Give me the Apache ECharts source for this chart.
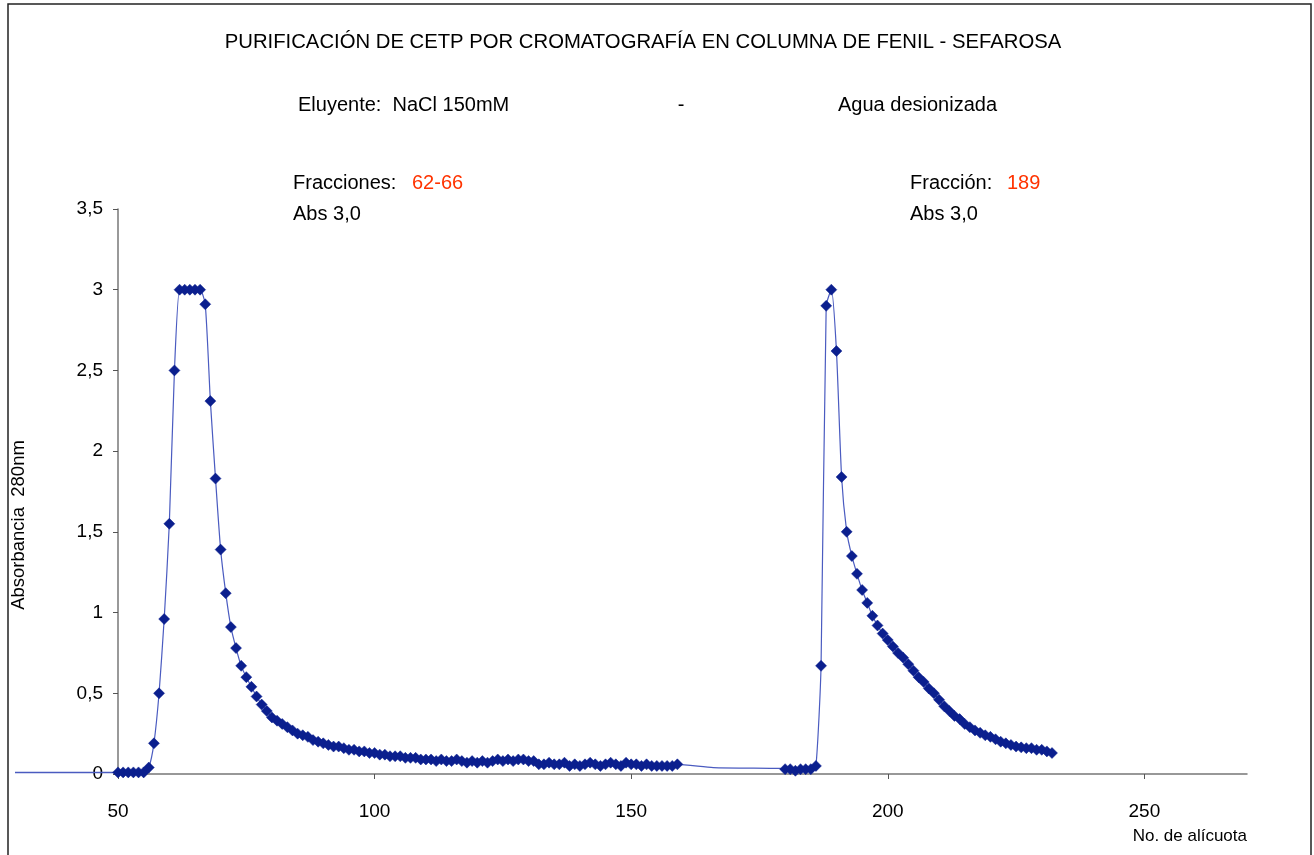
<!DOCTYPE html>
<html>
<head>
<meta charset="utf-8">
<script src="https://cdn.jsdelivr.net/npm/echarts@6/dist/echarts.min.js"></script>
<style>
  html, body { margin: 0; padding: 0; background: #fff; }
  #chart { width: 1314px; height: 855px; }
</style>
</head>
<body>
<div id="chart"></div>
<script>
// alícuotas 50..159 (elución con NaCl 150mM)
var inicio1 = 50;
var abs1 = [
    0.01, 0.01, 0.01, 0.01, 0.01, 0.01, 0.04, 0.19, 0.50, 0.96,
    1.55, 2.50, 3.00, 3.00, 3.00, 3.00, 3.00, 2.91, 2.31, 1.83,
    1.39, 1.12, 0.91, 0.78, 0.67, 0.60, 0.54, 0.48, 0.43, 0.39,
    0.35, 0.33, 0.31, 0.29, 0.27, 0.25, 0.24, 0.23, 0.21, 0.20,
    0.19, 0.18, 0.17, 0.17, 0.16, 0.15, 0.15, 0.14, 0.14, 0.13,
    0.13, 0.12, 0.12, 0.11, 0.11, 0.11, 0.10, 0.10, 0.10, 0.09,
    0.09, 0.09, 0.08, 0.09, 0.08, 0.08, 0.09, 0.08, 0.07, 0.08,
    0.07, 0.08, 0.07, 0.08, 0.09, 0.08, 0.09, 0.08, 0.09, 0.09,
    0.08, 0.08, 0.06, 0.06, 0.07, 0.06, 0.06, 0.07, 0.05, 0.06,
    0.05, 0.06, 0.07, 0.06, 0.05, 0.06, 0.07, 0.06, 0.05, 0.07,
    0.06, 0.06, 0.05, 0.06, 0.05, 0.05, 0.05, 0.05, 0.05, 0.06
];

// alícuotas 180..232 (elución con agua desionizada)
var inicio2 = 180;
var abs2 = [
    0.03, 0.03, 0.02, 0.03, 0.03, 0.03, 0.05, 0.67, 2.90, 3.00,
    2.62, 1.84, 1.50, 1.35, 1.24, 1.14, 1.06, 0.98, 0.92, 0.87,
    0.83, 0.79, 0.75, 0.72, 0.68, 0.64, 0.60, 0.57, 0.53, 0.50,
    0.46, 0.42, 0.39, 0.36, 0.34, 0.31, 0.29, 0.27, 0.255, 0.24,
    0.23, 0.215, 0.20, 0.19, 0.18, 0.17, 0.165, 0.16, 0.16, 0.15,
    0.15, 0.14, 0.13
];

// tramos de la línea sin marcador
var sinMarcaAntes = [[30, 0.01], [50, 0.01]];
var sinMarcaHueco = [[166, 0.04], [179, 0.035]];

var marca = '#0B1F8E';
var linea = '#4A5BC0';
var rojo = '#FF3300';
var fuente = '"Liberation Sans", Arial, sans-serif';

var datos = [];
abs1.forEach(function (v, i) { datos.push([inicio1 + i, v]); });
sinMarcaHueco.forEach(function (p) { datos.push({ value: p, symbol: 'none' }); });
abs2.forEach(function (v, i) { datos.push([inicio2 + i, v]); });

var chart = echarts.init(document.getElementById('chart'));

function texto(x, y, t, color, align, size) {
    return { type: 'text', x: x, y: y, silent: true,
        style: { text: t, font: (size || 20) + 'px ' + fuente, fill: color || '#000',
                 align: align || 'left', verticalAlign: 'middle' } };
}

var option = {
    animation: false,
    backgroundColor: '#fff',
    grid: [
        { left: 118, right: 67, top: 209, bottom: 81, outerBoundsMode: 'none' },
        { left: 15, width: 103, top: 209, bottom: 81, outerBoundsMode: 'none' }
    ],
    xAxis: [{
        type: 'value',
        gridIndex: 0,
        min: 50, max: 270, interval: 50,
        name: 'No. de alícuota',
        nameLocation: 'end',
        nameGap: 0,
        nameTextStyle: { fontFamily: fuente, fontSize: 17, color: '#000',
            align: 'right', verticalAlign: 'top', padding: [54, 0, 0, 0] },
        axisLine: { lineStyle: { color: '#777', width: 1.5 } },
        axisTick: { show: true, inside: false, length: 5, lineStyle: { color: '#555' } },
        axisLabel: { fontFamily: fuente, fontSize: 19, color: '#000', margin: 28, showMaxLabel: false },
        splitLine: { show: false }
    }, {
        type: 'value', gridIndex: 1, min: 30, max: 50, show: false
    }],
    yAxis: [{
        type: 'value',
        gridIndex: 0,
        min: 0, max: 3.5, interval: 0.5,
        axisLine: { show: true, lineStyle: { color: '#777', width: 1.5 } },
        axisTick: { show: true, inside: false, length: 5, lineStyle: { color: '#555' } },
        axisLabel: { fontFamily: fuente, fontSize: 19, color: '#000', margin: 15,
            formatter: function (v) { return String(v).replace('.', ','); } },
        splitLine: { show: false }
    }, {
        type: 'value', gridIndex: 1, min: 0, max: 3.5, show: false
    }],
    series: [{
        type: 'line',
        xAxisIndex: 1, yAxisIndex: 1,
        data: sinMarcaAntes,
        symbol: 'none',
        lineStyle: { color: linea, width: 1.5 },
        z: 2
    }, {
        type: 'line',
        data: datos,
        clip: false,
        smooth: 0.2,
        symbol: 'diamond',
        symbolSize: 11,
        showAllSymbol: true,
        lineStyle: { color: linea, width: 1.2 },
        itemStyle: { color: marca, borderColor: marca, borderWidth: 0.5 },
        z: 3
    }],
    graphic: [
        { type: 'rect', shape: { x: 8, y: 4, width: 1303, height: 870 },
          style: { fill: 'none', stroke: '#222', lineWidth: 1.5 }, silent: true },
        texto(643, 42, 'PURIFICACIÓN DE CETP POR CROMATOGRAFÍA EN COLUMNA DE FENIL - SEFAROSA', '#000', 'center', 20.3),
        texto(298, 105, 'Eluyente:  NaCl 150mM'),
        texto(681, 105, '-', '#000', 'center'),
        texto(838, 105, 'Agua desionizada'),
        texto(293, 183, 'Fracciones:'),
        texto(412, 183, '62-66', rojo),
        texto(293, 214, 'Abs 3,0'),
        texto(910, 183, 'Fracción:'),
        texto(1007, 183, '189', rojo),
        texto(910, 214, 'Abs 3,0'),
        { type: 'text', x: 19, y: 525, rotation: Math.PI / 2, silent: true,
          style: { text: 'Absorbancia  280nm', font: '18.5px ' + fuente, fill: '#000',
                   align: 'center', verticalAlign: 'middle' } }
    ]
};

chart.setOption(option);
</script>
</body>
</html>
